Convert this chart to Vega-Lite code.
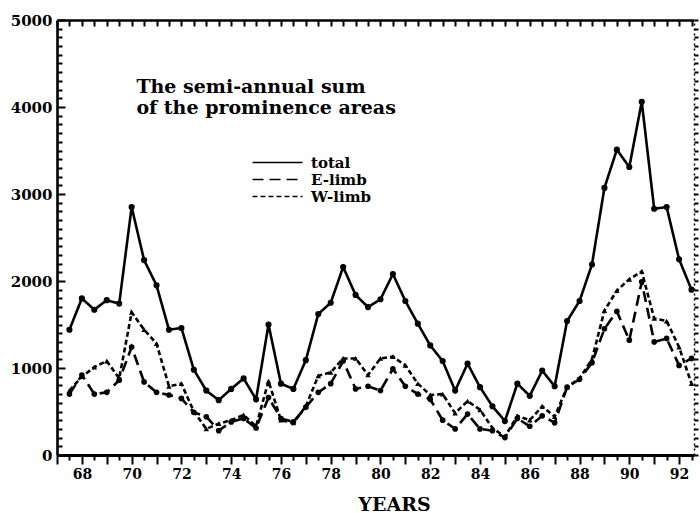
{
  "$schema": "https://vega.github.io/schema/vega-lite/v6.json",
  "width": 637,
  "height": 435,
  "autosize": "none",
  "padding": {"left": 57, "top": 20, "right": 6, "bottom": 58},
  "background": "white",
  "config": {
    "view": {"stroke": null},
    "axis": {"domainColor": "#000", "tickColor": "#000", "tickWidth": 2, "labelColor": "#000", "labelFont": "DejaVu Serif", "labelFontWeight": "bold", "grid": false, "titleColor": "#000"},
    "legend": {"labelFont": "DejaVu Serif", "labelFontWeight": "bold", "labelFontSize": 15, "labelColor": "#000"}
  },
  "data": {"values": [
    {"year": 67.5, "total": 1440, "elimb": 700, "wlimb": 740},
    {"year": 68.0, "total": 1800, "elimb": 920, "wlimb": 900},
    {"year": 68.5, "total": 1670, "elimb": 700, "wlimb": 1010},
    {"year": 69.0, "total": 1780, "elimb": 720, "wlimb": 1080},
    {"year": 69.5, "total": 1740, "elimb": 860, "wlimb": 880},
    {"year": 70.0, "total": 2850, "elimb": 1240, "wlimb": 1640},
    {"year": 70.5, "total": 2240, "elimb": 840, "wlimb": 1440},
    {"year": 71.0, "total": 1950, "elimb": 720, "wlimb": 1280},
    {"year": 71.5, "total": 1440, "elimb": 690, "wlimb": 790},
    {"year": 72.0, "total": 1460, "elimb": 650, "wlimb": 820},
    {"year": 72.5, "total": 980, "elimb": 490, "wlimb": 500},
    {"year": 73.0, "total": 740, "elimb": 440, "wlimb": 300},
    {"year": 73.5, "total": 630, "elimb": 280, "wlimb": 360},
    {"year": 74.0, "total": 760, "elimb": 380, "wlimb": 400},
    {"year": 74.5, "total": 880, "elimb": 420, "wlimb": 460},
    {"year": 75.0, "total": 640, "elimb": 310, "wlimb": 330},
    {"year": 75.5, "total": 1500, "elimb": 660, "wlimb": 850},
    {"year": 76.0, "total": 820, "elimb": 420, "wlimb": 400},
    {"year": 76.5, "total": 760, "elimb": 380, "wlimb": 370},
    {"year": 77.0, "total": 1090, "elimb": 550, "wlimb": 560},
    {"year": 77.5, "total": 1620, "elimb": 720, "wlimb": 910},
    {"year": 78.0, "total": 1750, "elimb": 820, "wlimb": 950},
    {"year": 78.5, "total": 2160, "elimb": 1080, "wlimb": 1110},
    {"year": 79.0, "total": 1840, "elimb": 760, "wlimb": 1110},
    {"year": 79.5, "total": 1700, "elimb": 790, "wlimb": 920},
    {"year": 80.0, "total": 1790, "elimb": 740, "wlimb": 1110},
    {"year": 80.5, "total": 2080, "elimb": 990, "wlimb": 1130},
    {"year": 81.0, "total": 1770, "elimb": 790, "wlimb": 1030},
    {"year": 81.5, "total": 1510, "elimb": 700, "wlimb": 820},
    {"year": 82.0, "total": 1260, "elimb": 640, "wlimb": 690},
    {"year": 82.5, "total": 1080, "elimb": 400, "wlimb": 700},
    {"year": 83.0, "total": 740, "elimb": 300, "wlimb": 480},
    {"year": 83.5, "total": 1050, "elimb": 470, "wlimb": 620},
    {"year": 84.0, "total": 780, "elimb": 300, "wlimb": 520},
    {"year": 84.5, "total": 560, "elimb": 280, "wlimb": 310},
    {"year": 85.0, "total": 390, "elimb": 200, "wlimb": 210},
    {"year": 85.5, "total": 820, "elimb": 420, "wlimb": 450},
    {"year": 86.0, "total": 680, "elimb": 330, "wlimb": 400},
    {"year": 86.5, "total": 970, "elimb": 450, "wlimb": 560},
    {"year": 87.0, "total": 790, "elimb": 370, "wlimb": 440},
    {"year": 87.5, "total": 1540, "elimb": 780, "wlimb": 780},
    {"year": 88.0, "total": 1770, "elimb": 870, "wlimb": 880},
    {"year": 88.5, "total": 2190, "elimb": 1060, "wlimb": 1100},
    {"year": 89.0, "total": 3070, "elimb": 1450, "wlimb": 1660},
    {"year": 89.5, "total": 3510, "elimb": 1650, "wlimb": 1890},
    {"year": 90.0, "total": 3310, "elimb": 1320, "wlimb": 2020},
    {"year": 90.5, "total": 4060, "elimb": 1990, "wlimb": 2110},
    {"year": 91.0, "total": 2830, "elimb": 1300, "wlimb": 1570},
    {"year": 91.5, "total": 2850, "elimb": 1340, "wlimb": 1540},
    {"year": 92.0, "total": 2250, "elimb": 1030, "wlimb": 1240},
    {"year": 92.5, "total": 1900, "elimb": 1110, "wlimb": 820}
  ]},
  "resolve": {"axis": {"x": "independent", "y": "independent"}},
  "layer": [
    {
      "mark": {"type": "line", "color": "#000", "strokeWidth": 2.6, "point": {"filled": true, "color": "#000", "size": 38, "shape": "circle"}},
      "encoding": {
        "x": {"field": "year", "type": "quantitative", "scale": {"domain": [67, 92.6], "nice": false, "zero": false},
          "axis": {"orient": "bottom", "values": [67,68,69,70,71,72,73,74,75,76,77,78,79,80,81,82,83,84,85,86,87,88,89,90,91,92], "labelExpr": "datum.value % 2 == 0 ? datum.value : ''", "tickSize": 9, "domainWidth": 3, "labelFontSize": 14, "labelPadding": 3, "labelDx": 3, "title": "YEARS", "titleFont": "DejaVu Serif", "titleFontWeight": "bold", "titleFontSize": 19, "titlePadding": 14, "titleX": 337}},
        "y": {"field": "total", "type": "quantitative", "scale": {"domain": [0, 5000], "nice": false},
          "axis": {"orient": "left", "values": [0,1000,2000,3000,4000,5000], "format": "d", "tickSize": -8, "domainWidth": 2.6, "labelFontSize": 15, "labelPadding": 13, "title": null}},
        "strokeDash": {"datum": "total", "type": "nominal",
          "scale": {"domain": ["total", "E-limb", "W-limb"], "range": [[1, 0], [11, 6], [5, 3]]},
          "legend": {"orient": "none", "legendX": 212, "legendY": 134, "title": null, "symbolType": "M-3.33,0H3.33", "symbolSize": 225, "labelOffset": 25, "rowPadding": -3, "labelFontSize": 15,
            "encode": {"symbols": {"update": {"stroke": {"value": "#000"}, "strokeWidth": {"value": 3.2}, "fill": {"value": "transparent"}, "opacity": {"value": 1}, "fillOpacity": {"value": 0}, "strokeOpacity": {"value": 1}, "shape": {"value": "M-3.33,0H3.33"}, "size": {"value": 225}}}}}}
      }
    },
    {
      "mark": {"type": "line", "color": "#000", "strokeWidth": 2.6, "point": {"filled": true, "color": "#000", "size": 32, "shape": "circle"}},
      "encoding": {
        "x": {"field": "year", "type": "quantitative",
          "axis": {"orient": "bottom", "values": [67.5,68.5,69.5,70.5,71.5,72.5,73.5,74.5,75.5,76.5,77.5,78.5,79.5,80.5,81.5,82.5,83.5,84.5,85.5,86.5,87.5,88.5,89.5,90.5,91.5,92.5], "tickSize": 5, "labels": false, "domain": false, "title": null}},
        "y": {"field": "elimb", "type": "quantitative",
          "axis": {"orient": "left", "values": [100,200,300,400,500,600,700,800,900,1100,1200,1300,1400,1500,1600,1700,1800,1900,2100,2200,2300,2400,2500,2600,2700,2800,2900,3100,3200,3300,3400,3500,3600,3700,3800,3900,4100,4200,4300,4400,4500,4600,4700,4800,4900], "tickSize": -5, "labels": false, "domain": false, "title": null}},
        "strokeDash": {"datum": "E-limb", "type": "nominal"}
      }
    },
    {
      "mark": {"type": "line", "color": "#000", "strokeWidth": 2.6, "point": {"filled": true, "color": "#000", "size": 30, "shape": "triangle-up"}},
      "encoding": {
        "x": {"field": "year", "type": "quantitative",
          "axis": {"orient": "top", "values": [67,67.5,68,68.5,69,69.5,70,70.5,71,71.5,72,72.5,73,73.5,74,74.5,75,75.5,76,76.5,77,77.5,78,78.5,79,79.5,80,80.5,81,81.5,82,82.5,83,83.5,84,84.5,85,85.5,86,86.5,87,87.5,88,88.5,89,89.5,90,90.5,91,91.5,92,92.5], "tickSize": -6, "labels": false, "domainWidth": 2.6, "title": null}},
        "y": {"field": "wlimb", "type": "quantitative",
          "axis": {"orient": "right", "values": [0,100,200,300,400,500,600,700,800,900,1000,1100,1200,1300,1400,1500,1600,1700,1800,1900,2000,2100,2200,2300,2400,2500,2600,2700,2800,2900,3000,3100,3200,3300,3400,3500,3600,3700,3800,3900,4000,4100,4200,4300,4400,4500,4600,4700,4800,4900,5000], "tickSize": 4, "labels": false, "domainWidth": 1.5, "domainDash": [2, 3], "title": null}},
        "strokeDash": {"datum": "W-limb", "type": "nominal"}
      }
    },
    {
      "data": {"values": [{}]},
      "mark": {"type": "text", "text": ["The semi-annual sum", "of the prominence areas"], "font": "DejaVu Serif", "fontWeight": "bold", "fontSize": 19, "lineHeight": 21, "align": "left", "baseline": "alphabetic", "color": "#000"},
      "encoding": {
        "x": {"datum": 70.19, "type": "quantitative", "axis": null},
        "y": {"datum": 4160, "type": "quantitative", "axis": null}
      }
    }
  ]
}
